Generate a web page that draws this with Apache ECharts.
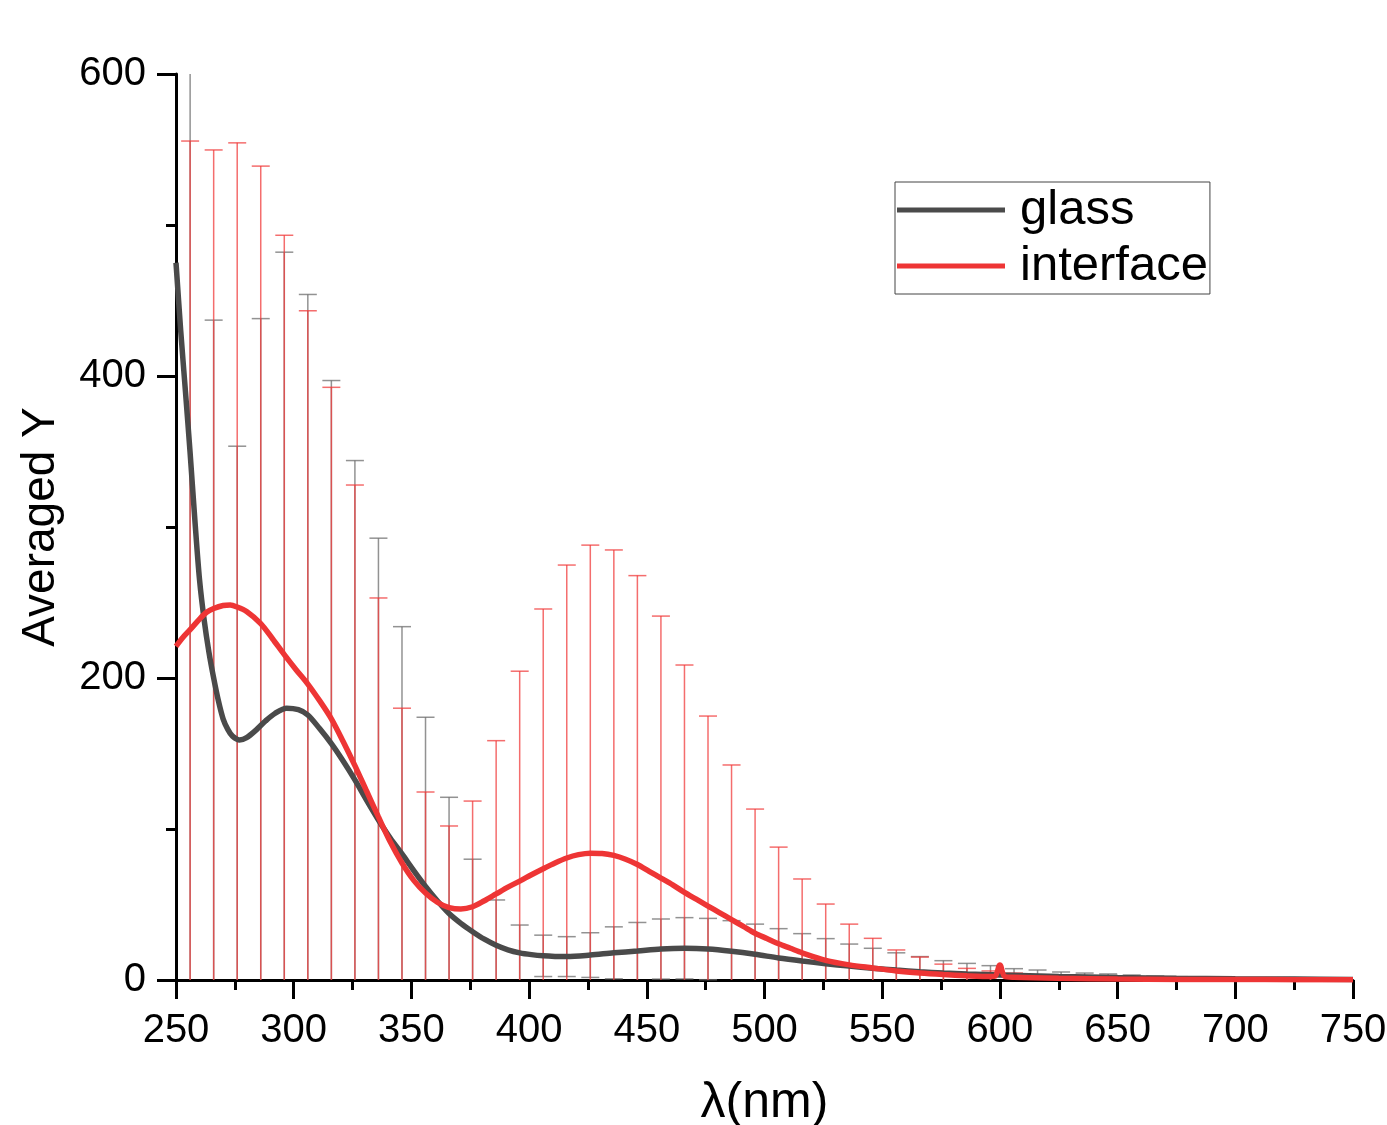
<!DOCTYPE html>
<html>
<head>
    <meta charset="utf-8">
    <title>Averaged Y</title>
    <script src="https://cdn.jsdelivr.net/npm/echarts@6/dist/echarts.min.js"></script>
    <style>
        html, body { margin: 0; padding: 0; background: #fff; }
    </style>
</head>
<body>
<div id="main" style="width: 1387px;height:1125px;"></div>
<script type="text/javascript">
    // smoothed curves
    var glassCurve = [
        [250, 475], [252, 430], [254, 390], [256, 349], [258, 305], [260, 265], [262, 238], [264, 217],
        [266, 200], [268, 185], [270, 173], [272, 166], [274, 161.5], [277, 159], [280, 160.5], [284, 165.5],
        [288, 171.5], [292, 176.5], [297, 180], [302, 179], [306, 175.5], [311, 166.5], [316, 156.5], [321, 145],
        [326, 132.5], [331, 119], [336, 106], [341, 94], [346, 83.5], [351, 72.5], [356, 62], [361, 52.5],
        [366, 44], [371, 37.5], [376, 32], [381, 27], [386, 23], [391, 20], [396, 18], [401, 16.8],
        [406, 16], [411, 15.6], [416, 15.5], [426, 16.5], [436, 18], [446, 19.2], [456, 20.5], [466, 21],
        [476, 20.5], [486, 19], [496, 17], [506, 14.6], [516, 12.6], [526, 10.8], [536, 9.2], [546, 7.8],
        [556, 6.6], [566, 5.5], [576, 4.6], [586, 4], [600, 3.3], [625, 2.3], [650, 1.6], [675, 1.1],
        [700, 0.8], [725, 0.6], [750, 0.4]
    ];
    var interfaceCurve = [
        [250, 221], [253, 227], [256, 232], [260, 239], [263, 243.5], [266, 246], [270, 248], [273, 248.3],
        [276, 247], [280, 244], [286, 236], [291, 226], [296, 215.5], [301, 205.5], [306, 196], [311, 185],
        [316, 173], [321, 158], [326, 142], [331, 125], [336, 108], [341, 91.5], [346, 77.5], [351, 66],
        [356, 57.6], [361, 51.5], [366, 48], [371, 47], [376, 48.5], [381, 52.5], [386, 57], [391, 61.5],
        [396, 65.5], [401, 69.7], [406, 73.7], [411, 77.5], [416, 80.8], [421, 83], [426, 84], [431, 83.8],
        [436, 82.5], [441, 80], [446, 76.5], [451, 72], [456, 67.5], [461, 63], [466, 58], [471, 53.5],
        [476, 49], [481, 44.5], [486, 40], [491, 35.5], [496, 31], [501, 27.5], [506, 24], [511, 21],
        [516, 18], [526, 13], [536, 10], [546, 8], [556, 6], [566, 4.6], [576, 3.6], [586, 2.8],
        [596, 2.3], [598, 2.6], [600, 10], [602, 2.4], [606, 1.8], [625, 1.1], [650, 0.65], [675, 0.4],
        [700, 0.3], [725, 0.2], [750, 0.1]
    ];

    // error bars every 10 nm: mean and half-width
    var barX = [256, 266, 276, 286, 296, 306, 316, 326, 336, 346, 356, 366, 376, 386, 396, 406, 416, 426, 436, 446,
        456, 466, 476, 486, 496, 506, 516, 526, 536, 546, 556, 566, 576, 586, 596, 606, 616, 626, 636, 646,
        656, 666, 676, 686, 696, 706, 716, 726, 736, 746];
    var glassMean = [349, 200, 160, 167, 180, 176, 157, 133, 106, 84, 62, 44, 32, 23, 18, 16, 15.5, 16.5, 18, 19,
        20.5, 21, 20.5, 19, 17, 14.5, 12.6, 10.6, 8.6, 7.9, 6.6, 5.5, 4.6, 4, 3.5, 3, 2.6, 2.2, 1.9, 1.6,
        1.4, 1.2, 1, 0.9, 0.8, 0.7, 0.6, 0.5, 0.5, 0.4];
    var glassErr = [370, 237, 193.5, 271, 302, 278, 240, 211, 186.6, 150, 112, 77, 48, 30, 18.4, 13.7, 13.2, 14.8, 17.2, 19.1,
        19.9, 20.3, 20.3, 20.3, 20, 19.5, 18.1, 16.8, 15.2, 13.1, 11.4, 10, 8.2, 7, 6, 4.5, 4, 3.1, 2.7, 2.4,
        1.9, 1.4, 1.2, 1.1, 1, 0.8, 0.7, 0.6, 0.5, 0.5];
    var interfaceMean = [232, 245.5, 247, 235, 215.5, 196, 176, 143, 108, 77.5, 57.6, 48, 48, 57.6, 66, 74, 80.8, 84, 82.5, 76.5,
        67.5, 58, 49, 40, 31, 24, 18, 13, 10, 8, 6, 4.6, 3.6, 2.8, 2.2, 1.8, 1.4, 1.1, 0.9, 0.7,
        0.6, 0.5, 0.4, 0.3, 0.3, 0.2, 0.2, 0.2, 0.1, 0.1];
    var interfaceErr = [323.6, 304.2, 307.4, 304, 277.7, 247.2, 216.5, 184.8, 145, 102.5, 66.9, 54, 70.5, 100.9, 138.5, 171.7, 194, 204, 202.3, 191.3,
        173.5, 150.6, 125.8, 102.4, 82.2, 64, 48.9, 37.3, 27, 19.6, 13.9, 10.6, 6.9, 4.9, 3.8, 2.8, 1.9, 1.5, 1.1, 0.9,
        0.7, 0.5, 0.4, 0.4, 0.3, 0.3, 0.2, 0.1, 0.2, 0.1];

    var xTicks = [250, 750, 50];
    var yTicks = [0, 600, 200];

    function zip(mean, err) {
        return barX.map(function (x, i) { return [x, mean[i], err[i]]; });
    }

    function errorBar(color) {
        return function (params, api) {
            var x = api.value(0), m = api.value(1), e = api.value(2);
            var top = api.coord([x, m + e]);
            var bot = api.coord([x, m - e]);
            var cs = params.coordSys;
            var yTop = Math.max(top[1], cs.y);
            var yBot = Math.min(bot[1], cs.y + cs.height);
            var half = 9;
            var style = { stroke: color, lineWidth: 1.5 };
            var children = [{
                type: 'line',
                shape: { x1: top[0], y1: yTop, x2: top[0], y2: yBot },
                style: style
            }];
            if (top[1] >= cs.y) {
                children.push({ type: 'line', shape: { x1: top[0] - half, y1: top[1], x2: top[0] + half, y2: top[1] }, style: style });
            }
            if (bot[1] <= cs.y + cs.height) {
                children.push({ type: 'line', shape: { x1: bot[0] - half, y1: bot[1], x2: bot[0] + half, y2: bot[1] }, style: style });
            }
            return { type: 'group', children: children };
        };
    }

    var myChart = echarts.init(document.getElementById('main'));
    var font = 'Liberation Sans, Arial, sans-serif';

    var option = {
        animation: false,
        backgroundColor: '#fff',
        grid: { left: 176, right: 34, top: 74, bottom: 145, outerBoundsMode: 'none', containLabel: false },
        legend: {
            left: 895, top: 182,
            orient: 'vertical',
            padding: [3, 2, 3, 2],
            itemGap: 6,
            itemWidth: 108, itemHeight: 5,
            icon: 'rect',
            borderColor: '#444', borderWidth: 1,
            data: ['glass', 'interface'],
            textStyle: { fontFamily: font, fontSize: 49, color: '#000', lineHeight: 50, padding: [0, 0, 0, 10] }
        },
        xAxis: {
            type: 'value',
            min: xTicks[0], max: xTicks[1], interval: xTicks[2],
            name: 'λ(nm)', nameLocation: 'middle', nameGap: 98,
            nameTextStyle: { fontFamily: font, fontSize: 50, color: '#000' },
            axisLine: { lineStyle: { color: '#000', width: 3 } },
            axisTick: { inside: false, length: 19, lineStyle: { color: '#000', width: 3 } },
            minorTick: { show: true, splitNumber: 2, length: 10, lineStyle: { color: '#000', width: 3 } },
            axisLabel: { fontFamily: font, fontSize: 40, color: '#000', margin: 31 },
            splitLine: { show: false }
        },
        yAxis: {
            type: 'value',
            min: yTicks[0], max: yTicks[1], interval: yTicks[2],
            name: 'Averaged Y', nameLocation: 'middle', nameGap: 112,
            nameTextStyle: { fontFamily: font, fontSize: 46, color: '#000' },
            axisLine: { show: true, lineStyle: { color: '#000', width: 3 } },
            axisTick: { show: true, inside: false, length: 19, lineStyle: { color: '#000', width: 3 } },
            minorTick: { show: true, splitNumber: 2, length: 10, lineStyle: { color: '#000', width: 3 } },
            axisLabel: { fontFamily: font, fontSize: 40, color: '#000', margin: 30 },
            splitLine: { show: false }
        },
        series: [
            {
                name: 'glass err', type: 'custom',
                renderItem: errorBar('rgba(110,110,110,0.75)'),
                data: zip(glassMean, glassErr),
                encode: { x: 0, y: 1 }, z: 1, silent: true
            },
            {
                name: 'interface err', type: 'custom',
                renderItem: errorBar('rgba(240,60,60,0.75)'),
                data: zip(interfaceMean, interfaceErr),
                encode: { x: 0, y: 1 }, z: 1, silent: true
            },
            {
                name: 'glass', type: 'line', data: glassCurve,
                smooth: 0.3, showSymbol: false, symbol: 'none',
                lineStyle: { color: '#4a4a4a', width: 5.5 },
                itemStyle: { color: '#4a4a4a' }, z: 3
            },
            {
                name: 'interface', type: 'line', data: interfaceCurve,
                smooth: 0.3, showSymbol: false, symbol: 'none',
                lineStyle: { color: '#ee3535', width: 5.5 },
                itemStyle: { color: '#ee3535' }, z: 4
            }
        ]
    };
    myChart.setOption(option);
</script>
</body>
</html>
